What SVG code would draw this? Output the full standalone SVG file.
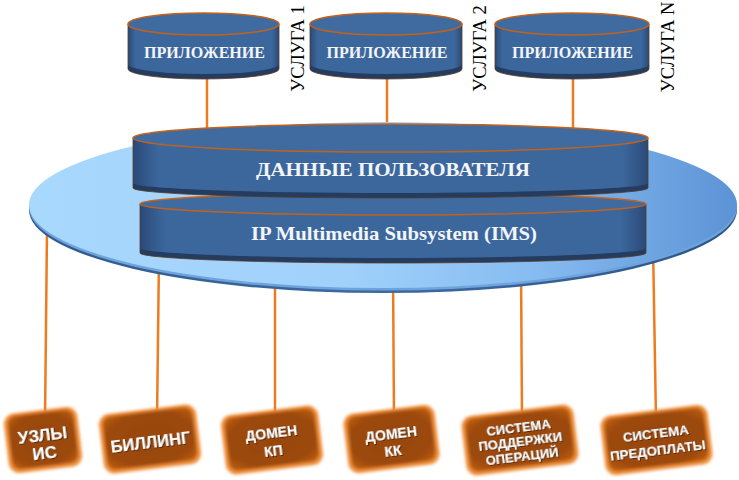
<svg xmlns="http://www.w3.org/2000/svg" width="739" height="480" viewBox="0 0 739 480">
<defs>
<style>
.cyl-rim{fill:#233c60}
.cyl-body{fill:url(#cylBody)}
.cyl-top{fill:#3f6ba1;stroke:#c4621a;stroke-width:1.5}
.cyl-edge{fill:none;stroke:#5a3a24;stroke-width:0.8}
.lbl-cyl{font-family:"Liberation Serif","Times New Roman",serif;font-weight:bold;fill:#f3f5f9;text-anchor:middle}
.svc{font-family:"Liberation Serif","Times New Roman",serif;font-size:18.5px;fill:#000;text-anchor:middle}
.conn{stroke:#ef7b1f;stroke-width:2.5;fill:none}
.box-glow{fill:#ee8f3c;filter:url(#soft)}
.box-body{fill:url(#boxGrad);filter:url(#soft2)}
.box-text{font-family:"Liberation Sans",Arial,sans-serif;font-weight:bold;fill:#fff;text-anchor:middle;filter:url(#tshadow)}
</style>
<linearGradient id="cylBody" x1="0" y1="0" x2="1" y2="0">
<stop offset="0" stop-color="#2a4a78"/>
<stop offset="0.05" stop-color="#3c679d"/>
<stop offset="0.95" stop-color="#3c679d"/>
<stop offset="1" stop-color="#2a4a78"/>
</linearGradient>
<linearGradient id="discGrad" x1="29" y1="0" x2="737" y2="0" gradientUnits="userSpaceOnUse">
<stop offset="0" stop-color="#a9d8fd"/>
<stop offset="0.45" stop-color="#a0d1fb"/>
<stop offset="0.72" stop-color="#86bbf1"/>
<stop offset="1" stop-color="#5c93d5"/>
</linearGradient>
<linearGradient id="rimGrad" x1="29" y1="0" x2="737" y2="0" gradientUnits="userSpaceOnUse">
<stop offset="0" stop-color="#2f5a8c"/>
<stop offset="0.5" stop-color="#3b6aa2"/>
<stop offset="1" stop-color="#2c5688"/>
</linearGradient>
<radialGradient id="boxGrad" cx="0.5" cy="0.5" r="0.7">
<stop offset="0" stop-color="#974506"/>
<stop offset="0.7" stop-color="#9c4908"/>
<stop offset="1" stop-color="#c0600f"/>
</radialGradient>
<filter id="soft" x="-20%" y="-20%" width="140%" height="140%">
<feGaussianBlur stdDeviation="1.4"/>
</filter>
<filter id="soft2" x="-20%" y="-20%" width="140%" height="140%">
<feGaussianBlur stdDeviation="1.6"/>
</filter>
<filter id="tshadow" x="-20%" y="-30%" width="140%" height="160%">
<feDropShadow dx="1" dy="1" stdDeviation="0.7" flood-color="#3a1800" flood-opacity="0.8"/>
</filter>
</defs>

<g id="connectors">
<line class="conn" x1="207" y1="79" x2="207" y2="135"/>
<line class="conn" x1="387" y1="79" x2="387" y2="135"/>
<line class="conn" x1="573" y1="79" x2="573" y2="135"/>
<line class="conn" x1="47" y1="230" x2="45" y2="420"/>
<line class="conn" x1="159" y1="255" x2="157" y2="420"/>
<line class="conn" x1="275" y1="270" x2="275" y2="420"/>
<line class="conn" x1="393" y1="270" x2="394" y2="420"/>
<line class="conn" x1="521" y1="265" x2="522" y2="420"/>
<line class="conn" x1="653" y1="245" x2="656" y2="420"/>
</g>

<g id="platform">
<ellipse cx="383" cy="210" rx="354" ry="83" fill="url(#rimGrad)"/>
<ellipse cx="383" cy="207.5" rx="354" ry="83" fill="#6fa3dc"/>
<ellipse cx="383" cy="205" rx="354" ry="83" fill="url(#discGrad)"/>
</g>

<g id="node-ims">
<path class="cyl-rim" d="M140,204 L140,253 A253,10 0 0 0 646,253 L646,204 Z"/>
<path class="cyl-body" d="M140,204 L140,248 A253,10 0 0 0 646,248 L646,204 Z"/>
<path class="cyl-edge" d="M140,204 L140,253 A253,10 0 0 0 646,253 L646,204"/>
<ellipse class="cyl-top" cx="393" cy="204" rx="253" ry="11"/>
<text class="lbl-cyl" x="394" y="240" font-size="19" textLength="286" lengthAdjust="spacingAndGlyphs">IP Multimedia Subsystem (IMS)</text>
</g>

<g id="node-user-data">
<path class="cyl-rim" d="M133,138 L133,188 A257.5,10 0 0 0 648,188 L648,138 Z"/>
<path class="cyl-body" d="M133,138 L133,183 A257.5,10 0 0 0 648,183 L648,138 Z"/>
<path class="cyl-edge" d="M133,138 L133,188 A257.5,10 0 0 0 648,188 L648,138"/>
<ellipse class="cyl-top" cx="390.5" cy="138" rx="257.5" ry="14"/>
<text class="lbl-cyl" x="393" y="176" font-size="19.5" textLength="274" lengthAdjust="spacingAndGlyphs">ДАННЫЕ ПОЛЬЗОВАТЕЛЯ</text>
</g>

<g id="node-app1">
<path class="cyl-rim" d="M128,24 L128,69 A75.5,10 0 0 0 279,69 L279,24 Z"/>
<path class="cyl-body" d="M128,24 L128,64 A75.5,10 0 0 0 279,64 L279,24 Z"/>
<path class="cyl-edge" d="M128,24 L128,69 A75.5,10 0 0 0 279,69 L279,24"/>
<ellipse class="cyl-top" cx="203.5" cy="24" rx="75.5" ry="11"/>
<text class="lbl-cyl" x="204.5" y="57.5" font-size="16" textLength="121" lengthAdjust="spacingAndGlyphs">ПРИЛОЖЕНИЕ</text>
<text class="svc" transform="translate(303.5,48.5) rotate(-90)">УСЛУГА 1</text>
</g>

<g id="node-app2">
<path class="cyl-rim" d="M310,24 L310,69 A76,10 0 0 0 462,69 L462,24 Z"/>
<path class="cyl-body" d="M310,24 L310,64 A76,10 0 0 0 462,64 L462,24 Z"/>
<path class="cyl-edge" d="M310,24 L310,69 A76,10 0 0 0 462,69 L462,24"/>
<ellipse class="cyl-top" cx="386" cy="24" rx="76" ry="11"/>
<text class="lbl-cyl" x="387" y="57.5" font-size="16" textLength="121" lengthAdjust="spacingAndGlyphs">ПРИЛОЖЕНИЕ</text>
<text class="svc" transform="translate(485.5,48.5) rotate(-90)">УСЛУГА 2</text>
</g>

<g id="node-appN">
<path class="cyl-rim" d="M495,24 L495,69 A77,10 0 0 0 649,69 L649,24 Z"/>
<path class="cyl-body" d="M495,24 L495,64 A77,10 0 0 0 649,64 L649,24 Z"/>
<path class="cyl-edge" d="M495,24 L495,69 A77,10 0 0 0 649,69 L649,24"/>
<ellipse class="cyl-top" cx="572" cy="24" rx="77" ry="11"/>
<text class="lbl-cyl" x="572.5" y="57.5" font-size="16" textLength="121" lengthAdjust="spacingAndGlyphs">ПРИЛОЖЕНИЕ</text>
<text class="svc" transform="translate(673.5,47) rotate(-90)">УСЛУГА N</text>
</g>

<g id="node-uzly" transform="translate(43,440) rotate(-7)">
<rect class="box-glow" x="-37" y="-30" width="74" height="60" rx="11"/>
<rect class="box-body" x="-33" y="-27" width="66" height="53" rx="8"/>
<text class="box-text" font-size="17"><tspan x="0" y="1">УЗЛЫ</tspan><tspan x="0" y="19">ИС</tspan></text>
</g>

<g id="node-billing" transform="translate(150,439) rotate(-7)">
<rect class="box-glow" x="-49" y="-30" width="98" height="60" rx="11"/>
<rect class="box-body" x="-45" y="-27" width="90" height="53" rx="8"/>
<text class="box-text" font-size="16.5" x="0" y="8.5">БИЛЛИНГ</text>
</g>

<g id="node-domen-kp" transform="translate(272,440) rotate(-7)">
<rect class="box-glow" x="-49" y="-30" width="98" height="60" rx="11"/>
<rect class="box-body" x="-45" y="-27" width="90" height="53" rx="8"/>
<text class="box-text" font-size="14"><tspan x="0" y="-2">ДОМЕН</tspan><tspan x="0" y="16">КП</tspan></text>
</g>

<g id="node-domen-kk" transform="translate(391.5,439) rotate(-7)">
<rect class="box-glow" x="-46" y="-30" width="92" height="60" rx="11"/>
<rect class="box-body" x="-42" y="-27" width="84" height="53" rx="8"/>
<text class="box-text" font-size="14"><tspan x="0" y="0">ДОМЕН</tspan><tspan x="0" y="17">КК</tspan></text>
</g>

<g id="node-oss" transform="translate(520,440) rotate(-7)">
<rect class="box-glow" x="-56.5" y="-30" width="113" height="60" rx="11"/>
<rect class="box-body" x="-52.5" y="-27" width="105" height="53" rx="8"/>
<text class="box-text" font-size="13"><tspan x="0" y="-8.5">СИСТЕМА</tspan><tspan x="0" y="6">ПОДДЕРЖКИ</tspan><tspan x="0" y="20.5">ОПЕРАЦИЙ</tspan></text>
</g>

<g id="node-prepaid" transform="translate(656.5,440) rotate(-7)">
<rect class="box-glow" x="-54" y="-30" width="108" height="60" rx="11"/>
<rect class="box-body" x="-50" y="-27" width="100" height="53" rx="8"/>
<text class="box-text" font-size="13.3"><tspan x="0" y="-2.5">СИСТЕМА</tspan><tspan x="0" y="15">ПРЕДОПЛАТЫ</tspan></text>
</g>
</svg>
